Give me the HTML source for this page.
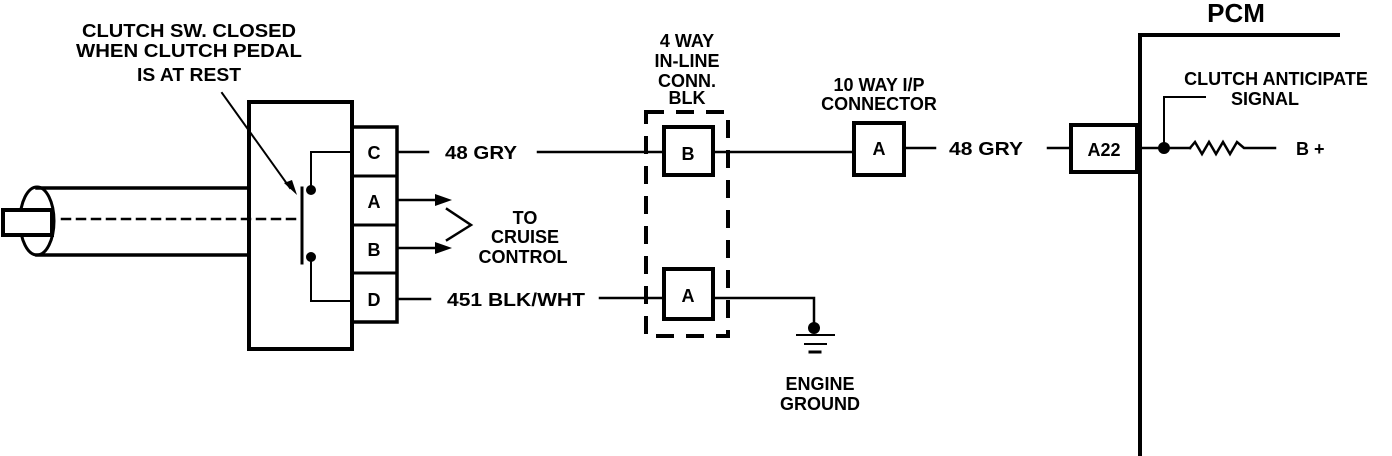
<!DOCTYPE html>
<html><head><style>html,body{margin:0;padding:0;background:#fff}svg{display:block}text{font-family:"Liberation Sans",sans-serif;font-weight:bold;font-size:18px;fill:#000}</style></head><body>
<svg width="1392" height="456" viewBox="0 0 1392 456" xmlns="http://www.w3.org/2000/svg">
<g stroke="#000" fill="none" stroke-linecap="square">
<ellipse cx="37" cy="221" rx="17" ry="34" stroke-width="3"/>
<line x1="37" y1="188" x2="248" y2="188" stroke-width="3.5"/>
<line x1="37" y1="255" x2="248" y2="255" stroke-width="3.5"/>
<rect x="3" y="210" width="49" height="25" fill="#fff" stroke-width="4"/>
<line x1="62" y1="219" x2="300" y2="219" stroke-width="2.5" stroke-dasharray="8,7"/>
<rect x="249" y="102" width="103" height="247" fill="none" stroke-width="4"/>
<rect x="352" y="127" width="45" height="195" stroke-width="3.5"/>
<line x1="352" y1="176" x2="397" y2="176" stroke-width="3"/>
<line x1="352" y1="225" x2="397" y2="225" stroke-width="3"/>
<line x1="352" y1="273" x2="397" y2="273" stroke-width="3"/>
<polyline points="352,152 311,152 311,188" stroke-width="2"/>
<polyline points="352,301 311,301 311,258" stroke-width="2"/>
<line x1="302" y1="188" x2="302" y2="263" stroke-width="3"/>
<line x1="222" y1="93" x2="290" y2="188" stroke-width="2"/>
<line x1="397" y1="152" x2="428" y2="152" stroke-width="2.5"/>
<line x1="538" y1="152" x2="663" y2="152" stroke-width="2.5"/>
<line x1="397" y1="200" x2="440" y2="200" stroke-width="2.5"/>
<line x1="397" y1="248" x2="440" y2="248" stroke-width="2.5"/>
<polyline points="447,209 471,225 447,240" stroke-width="2.5"/>
<line x1="397" y1="299" x2="430" y2="299" stroke-width="2.5"/>
<line x1="600" y1="298" x2="663" y2="298" stroke-width="2.5"/>
<rect x="646" y="112" width="82" height="224" stroke-width="4" stroke-dasharray="18,12" stroke-linecap="butt"/>
<rect x="664" y="127" width="49" height="48" fill="#fff" stroke-width="4"/>
<rect x="664" y="269" width="49" height="50" fill="#fff" stroke-width="4"/>
<line x1="713" y1="152" x2="853" y2="152" stroke-width="2.5"/>
<rect x="854" y="123" width="50" height="52" stroke-width="4"/>
<line x1="904" y1="148" x2="935" y2="148" stroke-width="2.5"/>
<line x1="1048" y1="148" x2="1070" y2="148" stroke-width="2.5"/>
<rect x="1071" y="125" width="66" height="47" stroke-width="4"/>
<polyline points="713,298 814,298 814,326" stroke-width="2.5"/>
<line x1="797" y1="335" x2="834" y2="335" stroke-width="2"/>
<line x1="805" y1="344" x2="826" y2="344" stroke-width="2"/>
<line x1="810" y1="352" x2="820" y2="352" stroke-width="3"/>
<polyline points="1340,35 1140,35 1140,456" stroke-width="4" stroke-linecap="butt"/>
<line x1="1137" y1="148" x2="1190" y2="148" stroke-width="2.5"/>
<polyline points="1164,148 1164,97 1205,97" stroke-width="2"/>
<polyline points="1190,148 1195,142 1202,154 1209,142 1216,154 1223,142 1230,154 1237,142 1244,148 1275,148" stroke-width="2.5"/>
</g>
<g fill="#000">
<polygon points="297,195 284,183 292,180"/>
<polygon points="452,200 435,194 435,206"/>
<polygon points="452,248 435,242 435,254"/>
<circle cx="311" cy="190" r="5"/>
<circle cx="311" cy="257" r="5"/>
<circle cx="814" cy="328" r="6"/>
<circle cx="1164" cy="148" r="6"/>
</g>
<text x="189" y="37" text-anchor="middle" textLength="214" lengthAdjust="spacingAndGlyphs">CLUTCH SW. CLOSED</text>
<text x="189" y="57" text-anchor="middle" textLength="226" lengthAdjust="spacingAndGlyphs">WHEN CLUTCH PEDAL</text>
<text x="189" y="81" text-anchor="middle" textLength="104" lengthAdjust="spacingAndGlyphs">IS AT REST</text>
<text x="374" y="159" text-anchor="middle">C</text>
<text x="374" y="208" text-anchor="middle">A</text>
<text x="374" y="256" text-anchor="middle">B</text>
<text x="374" y="306" text-anchor="middle">D</text>
<text x="445" y="159" textLength="72" lengthAdjust="spacingAndGlyphs">48 GRY</text>
<text x="447" y="306" textLength="138" lengthAdjust="spacingAndGlyphs">451 BLK/WHT</text>
<text x="525" y="224" text-anchor="middle">TO</text>
<text x="525" y="243" text-anchor="middle">CRUISE</text>
<text x="523" y="263" text-anchor="middle">CONTROL</text>
<text x="687" y="47" text-anchor="middle">4 WAY</text>
<text x="687" y="67" text-anchor="middle">IN-LINE</text>
<text x="687" y="87" text-anchor="middle">CONN.</text>
<text x="687" y="104" text-anchor="middle">BLK</text>
<text x="688" y="160" text-anchor="middle">B</text>
<text x="688" y="302" text-anchor="middle">A</text>
<text x="879" y="91" text-anchor="middle">10 WAY I/P</text>
<text x="879" y="110" text-anchor="middle">CONNECTOR</text>
<text x="879" y="155" text-anchor="middle">A</text>
<text x="986" y="155" text-anchor="middle" textLength="74" lengthAdjust="spacingAndGlyphs">48 GRY</text>
<text x="1104" y="156" text-anchor="middle">A22</text>
<text x="1236" y="22" text-anchor="middle" style="font-size:26px">PCM</text>
<text x="1276" y="85" text-anchor="middle">CLUTCH ANTICIPATE</text>
<text x="1265" y="105" text-anchor="middle">SIGNAL</text>
<text x="1296" y="155">B +</text>
<text x="820" y="390" text-anchor="middle">ENGINE</text>
<text x="820" y="410" text-anchor="middle">GROUND</text>
</svg>
</body></html>
